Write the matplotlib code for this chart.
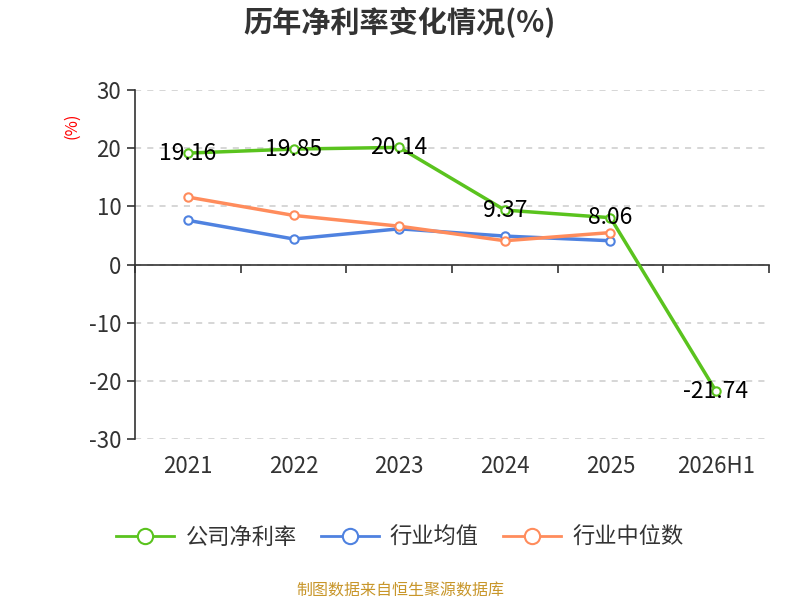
import matplotlib
matplotlib.use("Agg")
import matplotlib.pyplot as plt
from matplotlib.lines import Line2D
import matplotlib.transforms as mtransforms

plt.rcParams['font.family'] = ['Noto Sans CJK SC', 'DejaVu Sans']
plt.rcParams['axes.unicode_minus'] = False

years = ['2021', '2022', '2023', '2024', '2025', '2026H1']
company = [19.16, 19.85, 20.14, 9.37, 8.06, -21.74]
ind_mean = [7.6, 4.4, 6.15, 4.9, 4.1]
ind_median = [11.6, 8.45, 6.6, 4.1, 5.5]

green = '#5ac31e'
blue = '#4f82e0'
orange = '#ff8c5c'

fig = plt.figure(figsize=(8, 6), dpi=100)
ax = fig.add_axes([0.169, 0.268, 0.792, 0.582])

x = list(range(len(years)))
ax.plot(x, company, color=green, lw=2.5, marker='o', ms=6, mfc='white', mec=green, mew=1.5, zorder=5)
ax.plot(x[:len(ind_mean)], ind_mean, color=blue, lw=2.5, marker='o', ms=6, mfc='white', mec=blue, mew=1.5, zorder=4)
ax.plot(x[:len(ind_median)], ind_median, color=orange, lw=2.5, marker='o', ms=6, mfc='white', mec=orange, mew=1.5, zorder=4)

for xi, v in zip(x, company):
    ax.text(xi, v, f'{v:.2f}', ha='center', va='center', fontsize=16.5, color='black', zorder=6)

ax.set_xlim(-0.5, len(years) - 0.5)
ax.set_ylim(-30, 30)
ax.set_yticks(range(-30, 31, 10))
ax.tick_params(axis='y', labelsize=16, colors='#333333', length=6, width=1.2, pad=4)
ax.grid(axis='y', color='#cccccc', ls=(0, (4, 4)), lw=1.1)

for s in ['top', 'right']:
    ax.spines[s].set_visible(False)
ax.spines['left'].set_color('#333333')
ax.spines['left'].set_linewidth(1.2)
ax.spines['bottom'].set_position(('data', 0))
ax.spines['bottom'].set_color('#333333')
ax.spines['bottom'].set_linewidth(1.2)
ax.set_xticks([i - 0.5 for i in range(len(years) + 1)])
ax.set_xticklabels([])
ax.tick_params(axis='x', length=6, width=1.2, colors='#333333', direction='out')

trans = mtransforms.blended_transform_factory(ax.transData, ax.transAxes)
for xi, lab in zip(x, years):
    ax.text(xi, -0.045, lab, transform=trans, ha='center', va='top', fontsize=16, color='#333333')

fig.text(0.09, 0.79, '(%)', color='red', rotation=90, ha='center', va='center', fontsize=12)
fig.text(0.5, 0.962, '历年净利率变化情况(%)', ha='center', va='center', fontsize=21, fontweight='bold', color='#333333')

handles = [Line2D([], [], color=c, lw=2, marker='o', ms=11, mfc='white', mec=c, mew=1.5)
           for c in [green, blue, orange]]
fig.legend(handles, ['公司净利率', '行业均值', '行业中位数'], loc='center', bbox_to_anchor=(0.5, 0.105),
           ncol=3, frameon=False, fontsize=16, handlelength=2.6, columnspacing=1.1, handletextpad=0.5,
           labelcolor='#333333')

fig.text(0.5, 0.015, '制图数据来自恒生聚源数据库', ha='center', va='center', fontsize=11.5, color='#c8962a')

fig.savefig('out.png', dpi=100)
